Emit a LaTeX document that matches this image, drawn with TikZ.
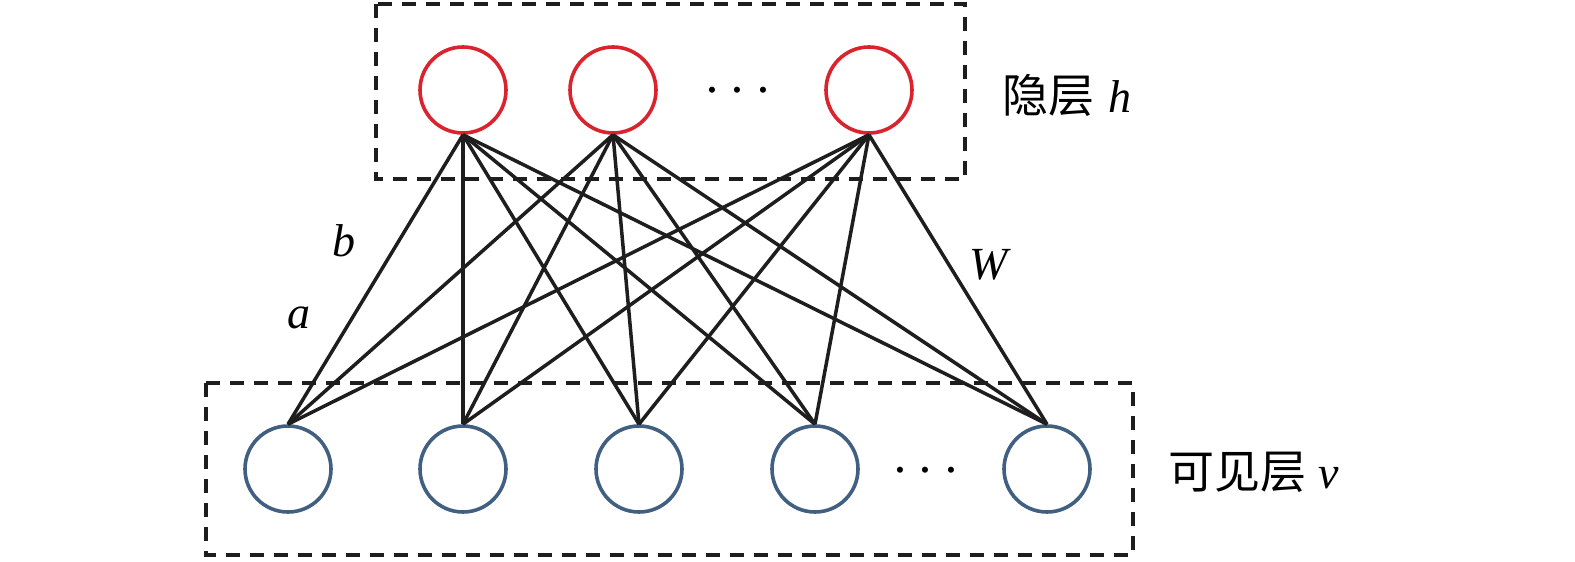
\documentclass[tikz,border=0pt]{standalone}
\usepackage{fontspec}
\setmainfont{Liberation Serif}
\newfontfamily\cjk{Noto Sans CJK SC}
\definecolor{hidred}{RGB}{218,35,45}
\definecolor{visblue}{RGB}{65,95,128}
\definecolor{linegray}{RGB}{30,30,30}
\begin{document}
\begin{tikzpicture}[x=1pt,y=-1pt,
  hid/.style={circle,draw=hidred,line width=3.6pt,minimum size=86pt,inner sep=0pt},
  vis/.style={circle,draw=visblue,line width=3.6pt,minimum size=86pt,inner sep=0pt},
  conn/.style={draw=linegray,line width=3.5pt},
  layerbox/.style={draw=linegray,line width=3.3pt,dash pattern=on 14pt off 10pt},
  lbl/.style={font=\fontsize{46}{50}\selectfont,inner sep=0pt},
  dots/.style={font=\fontsize{24}{28}\selectfont,inner sep=0pt,scale=2.3}]
\useasboundingbox (0,0) rectangle (1575,562);
\draw[layerbox] (376,4) rectangle (965,179);
\draw[layerbox] (206,383) rectangle (1133,555);
\node[hid] (h1) at (463,90) {};
\node[hid] (h2) at (613,90) {};
\node[hid] (h3) at (869,90) {};
\node[dots] (hd) at (738,92) {$\cdots$};
\node[vis] (v1) at (288,469) {};
\node[vis] (v2) at (463,469) {};
\node[vis] (v3) at (639,469) {};
\node[vis] (v4) at (815,469) {};
\node[vis] (v5) at (1047,469) {};
\node[dots] (vd) at (926,472) {$\cdots$};
\foreach \h in {h1,h2,h3}{
  \foreach \v in {v1,v2,v3,v4,v5}{
    \draw[conn] (\h.south) -- (\v.north);
  }
}
\node[lbl] (lb) at (344,241) {\itshape b};
\node[lbl] (la) at (299,318) {\itshape a};
\node[lbl] (lw) at (989,265) {\itshape W};
\node[lbl,anchor=west] (hl) at (1002,95) {{\cjk 隐层}\hspace{14pt}\itshape h};
\node[lbl,anchor=west] (vl) at (1168,472) {{\cjk 可见层}\hspace{12pt}\itshape v};
\end{tikzpicture}
\end{document}
